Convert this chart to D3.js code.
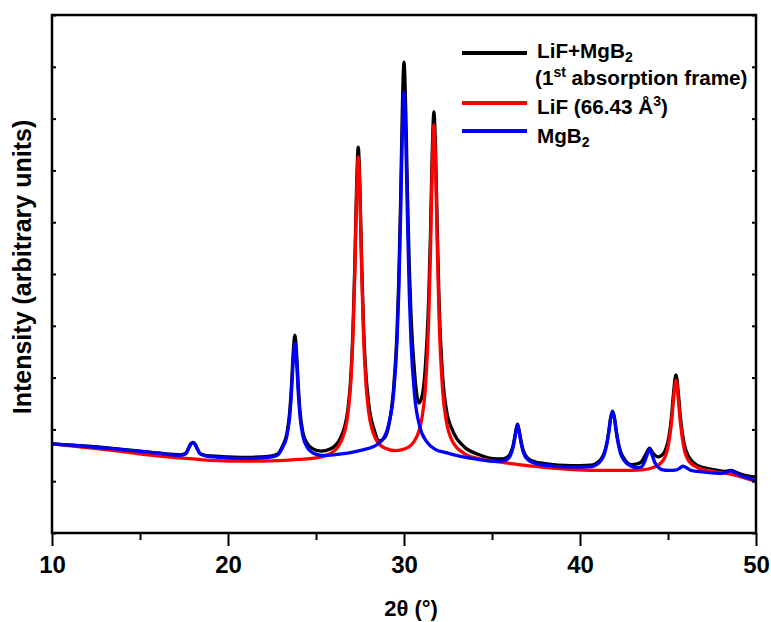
<!DOCTYPE html>
<html>
<head>
<meta charset="utf-8">
<script src="https://cdn.jsdelivr.net/npm/d3@7"></script>
<style>
body { margin: 0; background: #fff; }
text { font-family: Arial, "Liberation Sans", sans-serif; font-weight: bold; fill: #000; }
</style>
</head>
<body>
<div id="root"></div>
<script>
const width = 771;
const height = 622;
const margin = { top: 15, right: 15, bottom: 89, left: 52 };

// 2theta ticks
const majorTicks = [10, 20, 30, 40, 50];
const minorTicks = [15, 25, 35, 45];
const yTicks = [0, 10, 20, 30, 40, 50, 60, 70, 80, 90, 100];

// LiF+MgB2, 1st absorption frame  [2theta, intensity]
const mixData = [
  [10,17.2],[12,16.75],[14,16.15],[16,15.45],[17.3,15.1],[17.6,15.4],[17.8,16.7],[17.9,17.3],[18.0,17.5],[18.1,17.3],
  [18.2,16.7],[18.4,15.4],[18.7,15.0],[19.5,14.8],[21,14.6],[22.3,14.8],[22.8,15.2],[23.1,16.8],[23.35,19.3],[23.5,23.2],
  [23.6,28.0],[23.7,34.5],[23.8,38.2],[23.9,34.5],[24.0,28.0],[24.1,23.2],[24.25,19.5],[24.5,17.3],[24.8,16.3],[25.3,15.8],
  [25.8,16.2],[26.4,18.4],[26.8,23.6],[27.0,31.5],[27.1,39.2],[27.2,51.0],[27.3,66.0],[27.4,74.5],[27.5,66.2],[27.6,51.5],
  [27.7,40.0],[27.8,32.6],[28.0,24.8],[28.3,20.0],[28.6,17.8],[28.9,18.4],[29.15,21.0],[29.4,27.5],[29.6,38.5],[29.7,48.5],
  [29.8,63.0],[29.9,81.0],[30.0,90.9],[30.1,81.5],[30.2,65.0],[30.3,51.5],[30.4,42.0],[30.6,31.0],[30.85,25.1],[31.05,26.8],
  [31.2,31.5],[31.4,45.0],[31.5,57.0],[31.6,73.0],[31.7,81.3],[31.8,73.0],[31.9,57.0],[32.0,44.0],[32.2,30.0],[32.4,24.0],
  [32.8,19.5],[33.4,16.7],[34.2,15.2],[35.3,14.3],[35.6,14.3],[35.9,14.7],[36.05,15.4],[36.2,16.9],[36.3,18.7],[36.38,20.2],
  [36.45,21.0],[36.52,20.2],[36.6,18.7],[36.7,16.9],[36.85,15.3],[37.05,14.4],[37.4,13.8],[38,13.4],[39.5,13.0],[40.6,13.1],
  [40.9,13.4],[41.2,14.3],[41.4,15.7],[41.55,17.8],[41.65,20.0],[41.75,22.4],[41.85,23.5],[41.95,22.4],[42.05,20.0],[42.15,17.9],
  [42.3,15.8],[42.5,14.4],[42.9,13.2],[43.3,13.4],[43.55,14.0],[43.75,15.3],[43.95,16.4],[44.15,15.4],[44.45,14.7],[44.65,15.0],
  [44.85,16.0],[45.05,18.5],[45.2,22.5],[45.3,26.5],[45.45,30.5],[45.6,26.5],[45.7,22.5],[45.9,17.5],[46.2,14.6],[46.7,13.0],
  [47.5,12.3],[48.2,11.9],[48.4,12.0],[48.6,12.1],[48.8,11.8],[49.2,11.3],[49.6,11.0],[50,10.8]
];

// LiF (66.43 A^3)
const lifData = [
  [10,17.2],[12,16.5],[14,15.7],[16,14.9],[18,14.3],[20,13.9],[22,13.9],[24,14.2],[25,14.5],[25.8,15.3],
  [26.4,17.5],[26.8,22.7],[27.0,30.5],[27.1,38.0],[27.2,49.6],[27.3,64.4],[27.4,72.6],[27.5,64.6],[27.6,49.8],[27.7,38.3],
  [27.8,30.9],[28.0,23.2],[28.4,18.1],[28.9,16.4],[29.5,15.9],[30.1,16.3],[30.6,17.8],[31.0,21.8],[31.2,27.4],[31.4,41.0],
  [31.5,53.9],[31.6,70.2],[31.7,78.8],[31.8,70.2],[31.9,53.9],[32.0,40.9],[32.2,27.3],[32.4,21.7],[32.8,17.4],[33.4,15.4],
  [34.2,14.4],[35.5,13.7],[37,13.0],[39,12.4],[41,12.1],[42.5,12.1],[43.5,12.2],[44.2,12.7],[44.7,13.9],[45.0,16.6],
  [45.2,21.4],[45.3,25.3],[45.45,29.5],[45.6,25.3],[45.7,21.4],[45.9,16.5],[46.2,13.8],[46.7,12.6],[47.5,11.9],[48.5,11.4],
  [49.3,10.7],[50,10.0]
];

// MgB2
const mgb2Data = [
  [10,17.2],[12,16.7],[14,16.1],[16,15.4],[17.3,15.0],[17.6,15.3],[17.8,16.6],[17.9,17.2],[18.0,17.4],[18.1,17.2],
  [18.2,16.6],[18.4,15.3],[18.7,14.9],[19.5,14.6],[21,14.4],[22.3,14.6],[22.8,15.0],[23.1,16.5],[23.35,18.8],[23.5,22.3],
  [23.6,26.7],[23.7,32.9],[23.8,36.7],[23.9,32.9],[24.0,26.7],[24.1,22.3],[24.25,18.8],[24.5,16.5],[24.8,15.5],[25.3,15.0],
  [26.0,15.1],[26.8,15.4],[27.6,16.0],[28.2,16.6],[28.7,17.7],[29.1,20.6],[29.4,26.6],[29.6,36.8],[29.7,46.3],[29.8,60.2],
  [29.9,76.6],[30.0,85.1],[30.1,76.6],[30.2,60.2],[30.3,46.3],[30.4,36.8],[30.6,26.6],[30.9,20.5],[31.3,17.6],[31.8,16.1],
  [32.4,15.5],[33.2,14.8],[34.2,14.2],[35.3,13.8],[35.6,13.9],[35.9,14.3],[36.05,15.0],[36.2,16.6],[36.3,18.4],[36.38,19.9],
  [36.45,20.8],[36.52,19.9],[36.6,18.4],[36.7,16.6],[36.85,15.0],[37.05,14.1],[37.4,13.5],[38,13.1],[39.5,12.7],[40.6,12.8],
  [40.9,13.1],[41.2,14.0],[41.4,15.4],[41.55,17.6],[41.65,19.8],[41.75,22.3],[41.85,23.4],[41.95,22.3],[42.05,19.8],[42.15,17.6],
  [42.3,15.4],[42.5,14.0],[42.8,13.1],[43.2,12.6],[43.5,12.8],[43.65,13.6],[43.8,15.0],[43.95,16.2],[44.1,15.0],[44.25,13.6],
  [44.45,12.7],[44.7,12.2],[45.0,12.1],[45.5,12.2],[45.7,12.6],[45.85,12.9],[46.0,12.7],[46.3,12.1],[47.0,11.8],[48.0,11.5],
  [48.3,11.7],[48.55,12.0],[48.8,11.7],[49.1,11.1],[49.6,10.6],[50,10.0]
];

const series = [
  { name: "mix", color: "#000000", data: mixData },
  { name: "lif", color: "#ff0000", data: lifData },
  { name: "mgb2", color: "#0000ff", data: mgb2Data },
];

const svg = d3.select("#root")
  .append("svg")
  .attr("width", width)
  .attr("height", height);

const x = d3.scaleLinear()
  .domain([10, 50])
  .range([margin.left, width - margin.right]);

const y = d3.scaleLinear()
  .domain([0, 100])
  .range([height - margin.bottom, margin.top]);

const line = d3.line()
  .x(d => x(d[0]))
  .y(d => y(d[1]))
  .curve(d3.curveMonotoneX);

const plot = svg.append("g");

plot.selectAll(".trace")
  .data(series)
  .join("path")
  .attr("class", "trace")
  .attr("fill", "none")
  .attr("stroke", d => d.color)
  .attr("stroke-width", 3.3)
  .attr("stroke-linejoin", "round")
  .attr("d", d => line(d.data));

// axes
const bottom = height - margin.bottom;

const xAxis = svg.append("g")
  .attr("transform", `translate(0,${bottom})`)
  .call(d3.axisBottom(x).tickValues(majorTicks).tickSize(13).tickPadding(10).tickFormat(d3.format("d")));

svg.append("g")
  .attr("transform", `translate(0,${bottom})`)
  .call(d3.axisBottom(x).tickValues(minorTicks).tickSize(7).tickFormat(""));

svg.append("g")
  .attr("transform", `translate(${margin.left},0)`)
  .call(d3.axisLeft(y).tickValues(yTicks).tickSize(-4).tickFormat(""));

svg.append("g")
  .attr("transform", `translate(${width - margin.right},0)`)
  .call(d3.axisRight(y).tickValues(yTicks).tickSize(-4).tickFormat(""));

svg.selectAll(".domain").remove();
svg.selectAll(".tick line").attr("stroke", "#000").attr("stroke-width", 2);
xAxis.selectAll("text").style("font-size", "24px").style("font-family", "Arial, 'Liberation Sans', sans-serif").style("font-weight", "bold");

svg.append("rect")
  .attr("x", margin.left)
  .attr("y", margin.top)
  .attr("width", width - margin.left - margin.right)
  .attr("height", height - margin.top - margin.bottom)
  .attr("fill", "none")
  .attr("stroke", "#000")
  .attr("stroke-width", 2.5);

// axis titles
svg.append("text")
  .attr("x", 411)
  .attr("y", 616)
  .attr("text-anchor", "middle")
  .style("font-size", "22px")
  .text("2θ (°)");

svg.append("text")
  .attr("transform", `translate(31,267) rotate(-90)`)
  .attr("text-anchor", "middle")
  .style("font-size", "25px")
  .text("Intensity (arbitrary units)");

// legend
const legend = svg.append("g").style("font-size", "20.7px");
const legendRows = [
  { color: "#000000", ly: 53 },
  { color: "#ff0000", ly: 103 },
  { color: "#0000ff", ly: 131 },
];
legend.selectAll("line")
  .data(legendRows)
  .join("line")
  .attr("x1", 462).attr("x2", 527)
  .attr("y1", d => d.ly).attr("y2", d => d.ly)
  .attr("stroke", d => d.color)
  .attr("stroke-width", 4);

const t1 = legend.append("text").attr("x", 537).attr("y", 58);
t1.append("tspan").text("LiF+MgB");
t1.append("tspan").attr("dy", 4).style("font-size", "14px").text("2");

const t2 = legend.append("text").attr("x", 535).attr("y", 85);
t2.append("tspan").text("(1");
t2.append("tspan").attr("dy", -8).style("font-size", "14px").text("st");
t2.append("tspan").attr("dy", 8).text(" absorption frame)");

const t3 = legend.append("text").attr("x", 537).attr("y", 114);
t3.append("tspan").text("LiF (66.43 Å");
t3.append("tspan").attr("dy", -8).style("font-size", "14px").text("3");
t3.append("tspan").attr("dy", 8).text(")");

const t4 = legend.append("text").attr("x", 537).attr("y", 143);
t4.append("tspan").text("MgB");
t4.append("tspan").attr("dy", 4).style("font-size", "14px").text("2");
</script>
</body>
</html>
